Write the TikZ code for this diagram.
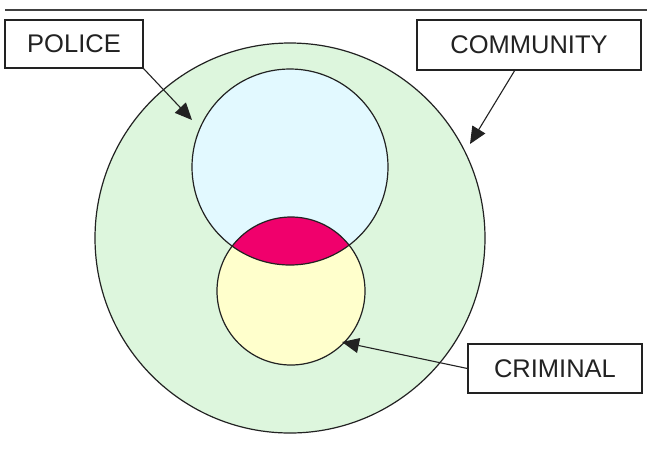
\documentclass[tikz,border=0pt]{standalone}
\usepackage{fontspec}
\setmainfont{Liberation Sans}
\usetikzlibrary{arrows.meta}
\definecolor{commgreen}{HTML}{DDF6DD}
\definecolor{polcyan}{HTML}{E2F9FF}
\definecolor{crimyellow}{HTML}{FFFFCC}
\definecolor{lensred}{HTML}{F0006C}
\definecolor{inkc}{HTML}{222222}
\tikzset{
  labelbox/.style={draw=inkc, line width=1.1pt, fill=white, inner sep=0pt,
    font=\fontsize{25.5}{30}\selectfont, text=inkc},
  ring/.style={draw=inkc, line width=1.2pt},
  pointer/.style={draw=inkc, line width=1.1pt, -{Triangle[length=17pt,width=15pt]}}
}
\begin{document}
\begin{tikzpicture}[x=1pt,y=-1pt]
\useasboundingbox (0,0) rectangle (647,475);
\fill[white] (0,0) rectangle (647,475);
% top rule
\coordinate (ruleL) at (5,10);
\coordinate (ruleR) at (647,10);
\draw[line width=2pt, draw=black!75] (ruleL) -- (ruleR);
% circles
\coordinate (cc) at (290,238);
\coordinate (pc) at (290,167);
\coordinate (kc) at (291,291);
\fill[commgreen] (cc) circle[radius=195];
\fill[polcyan] (pc) circle[radius=98];
\fill[crimyellow] (kc) circle[radius=74];
\begin{scope}
  \clip (pc) circle[radius=98];
  \fill[lensred] (kc) circle[radius=74];
\end{scope}
\draw[ring] (cc) circle[radius=195];
\draw[ring] (pc) circle[radius=98];
\draw[ring] (kc) circle[radius=74];
% labels
\node[labelbox, minimum width=138pt, minimum height=48pt] (police) at (74,44) {POLICE};
\node[labelbox, minimum width=224pt, minimum height=50pt] (community) at (529,45) {COMMUNITY};
\node[labelbox, minimum width=174pt, minimum height=49pt] (criminal) at (555,368.5) {CRIMINAL};
% arrow ends
\coordinate (ptip) at (192,120);
\coordinate (ctip) at (470,144);
\coordinate (ktip) at (342,342);
\coordinate (cstart) at (515,70);
\draw[pointer] (police.south east) -- (ptip);
\draw[pointer] (cstart) -- (ctip);
\draw[pointer] (criminal.west) -- (ktip);
\end{tikzpicture}
\end{document}
